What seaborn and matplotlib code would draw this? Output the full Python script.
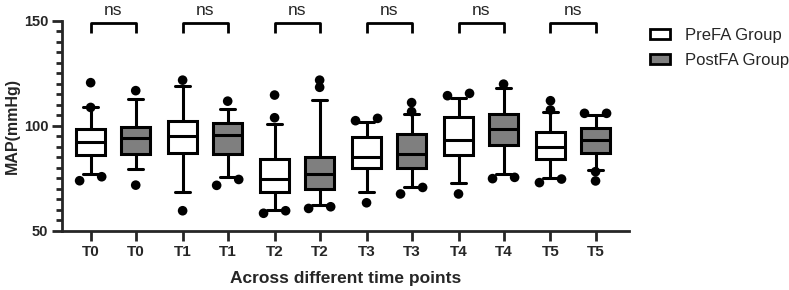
import numpy as np
import pandas as pd
import matplotlib
matplotlib.use("Agg")
import matplotlib.pyplot as plt
import seaborn as sns
from matplotlib.patches import Patch

sns.set_style("ticks")
plt.rcParams['font.family'] = ['Liberation Sans', 'DejaVu Sans']

# 데이터 (그림에서 읽은 값, 10-90 percentile whisker)
times = ['T0', 'T1', 'T2', 'T3', 'T4', 'T5']
groups = ['PreFA Group', 'PostFA Group']

pre_q1 = [86.0, 86.8, 68.3, 79.7, 86.0, 84.0]
pre_med = [92.4, 95.1, 74.6, 85.2, 93.2, 90.0]
pre_q3 = [98.3, 102.4, 84.1, 94.4, 104.0, 96.8]
pre_lo = [77.1, 68.6, 59.8, 68.6, 72.9, 75.2]
pre_hi = [109.0, 118.9, 100.8, 101.9, 113.0, 106.7]
pre_out = [[120.5, 108.7, 73.8, 75.7],
           [121.7, 59.5],
           [114.6, 103.8, 58.3, 59.5],
           [102.4, 103.5, 63.3],
           [115.4, 114.3, 67.5],
           [111.9, 107.5, 72.9, 74.6]]

post_q1 = [86.5, 86.5, 69.7, 79.7, 90.8, 86.8]
post_med = [94.3, 95.7, 77.0, 86.5, 98.3, 93.2]
post_q3 = [99.5, 101.4, 85.2, 96.0, 105.4, 99.0]
post_lo = [79.5, 75.7, 62.2, 70.6, 76.8, 78.9]
post_hi = [112.7, 107.8, 112.2, 105.4, 117.8, 105.1]
post_out = [[116.7, 71.7],
            [111.7, 71.6, 74.4],
            [121.7, 118.3, 60.6, 61.4],
            [111.0, 106.7, 67.5, 70.6],
            [119.8, 74.8, 75.4],
            [105.9, 105.9, 78.1, 73.7]]

sig_labels = ['ns', 'ns', 'ns', 'ns', 'ns', 'ns']

gray = '#7f7f7f'
off = 0.245

def make_stats(q1, med, q3, lo, hi):
    return [dict(q1=a, med=b, q3=c, whislo=d, whishi=e, fliers=[])
            for a, b, c, d, e in zip(q1, med, q3, lo, hi)]

def spread(vals):
    # 가까운 점은 좌우로 벌려서 찍기 (GraphPad 스타일)
    vals = sorted(vals)
    res = []
    i = 0
    while i < len(vals):
        if i + 1 < len(vals) and vals[i + 1] - vals[i] < 3.2:
            res += [(-0.12, vals[i]), (0.12, vals[i + 1])]
            i += 2
        else:
            res.append((0.0, vals[i]))
            i += 1
    return res

fig = plt.figure(figsize=(7.89, 2.9), dpi=100)
ax = fig.add_axes([0.079, 0.2045, 0.718, 0.724])

pos_pre = np.arange(len(times)) - off
pos_post = np.arange(len(times)) + off

box_kw = dict(widths=0.315, capwidths=0.165, showfliers=False, patch_artist=True,
              boxprops=dict(edgecolor='black', linewidth=2.2),
              medianprops=dict(color='black', linewidth=2.2),
              whiskerprops=dict(color='black', linewidth=2.2),
              capprops=dict(color='black', linewidth=2.2))

b1 = ax.bxp(make_stats(pre_q1, pre_med, pre_q3, pre_lo, pre_hi), positions=pos_pre, **box_kw)
b2 = ax.bxp(make_stats(post_q1, post_med, post_q3, post_lo, post_hi), positions=pos_post, **box_kw)
for p in b1['boxes']:
    p.set_facecolor('white')
for p in b2['boxes']:
    p.set_facecolor(gray)

# outlier 점
rows = []
for i in range(len(times)):
    for dx, v in spread(pre_out[i]):
        rows.append((pos_pre[i] + dx, v))
    for dx, v in spread(post_out[i]):
        rows.append((pos_post[i] + dx, v))
pts = pd.DataFrame(rows, columns=['x', 'y'])
sns.scatterplot(data=pts, x='x', y='y', color='black', s=48, edgecolor='none',
                ax=ax, zorder=5, clip_on=False, legend=False)

# ns 표시
for i in range(len(times)):
    ax.plot([pos_pre[i], pos_pre[i], pos_post[i], pos_post[i]], [144, 149, 149, 144],
            color='black', lw=2, clip_on=False, solid_capstyle='butt')
    ax.text(i, 151.3, sig_labels[i], ha='center', va='bottom', fontsize=12.5,
            clip_on=False)

ax.set_xlim(-0.553, 5.607)
ax.set_ylim(50, 150)
ticks = np.sort(np.concatenate([pos_pre, pos_post]))
ax.set_xticks(ticks)
ax.set_xticklabels([t for t in times for _ in range(2)], fontweight='bold', fontsize=11)
ax.set_yticks([50, 100, 150])
ax.set_yticklabels(['50', '100', '150'], fontweight='bold', fontsize=10.5)
ax.set_yticks(np.arange(55, 150, 5), minor=True)
ax.tick_params(axis='both', which='major', length=7, width=2, pad=3)
ax.tick_params(axis='y', which='minor', length=4.5, width=2)
ax.set_xlabel('Across different time points', fontweight='bold', fontsize=12.5, labelpad=9)
ax.set_ylabel('MAP(mmHg)', fontweight='bold', fontsize=11.5, labelpad=3)

sns.despine(ax=ax)
for s in ['left', 'bottom']:
    ax.spines[s].set_linewidth(2)

handles = [Patch(facecolor='white', edgecolor='black', linewidth=2),
           Patch(facecolor=gray, edgecolor='black', linewidth=2)]
fig.legend(handles, groups, loc='upper left', bbox_to_anchor=(0.805, 0.955),
           frameon=False, fontsize=12, handlelength=1.2, handleheight=0.5,
           labelspacing=0.6, handletextpad=0.9)

fig.savefig('out.png', dpi=100)
